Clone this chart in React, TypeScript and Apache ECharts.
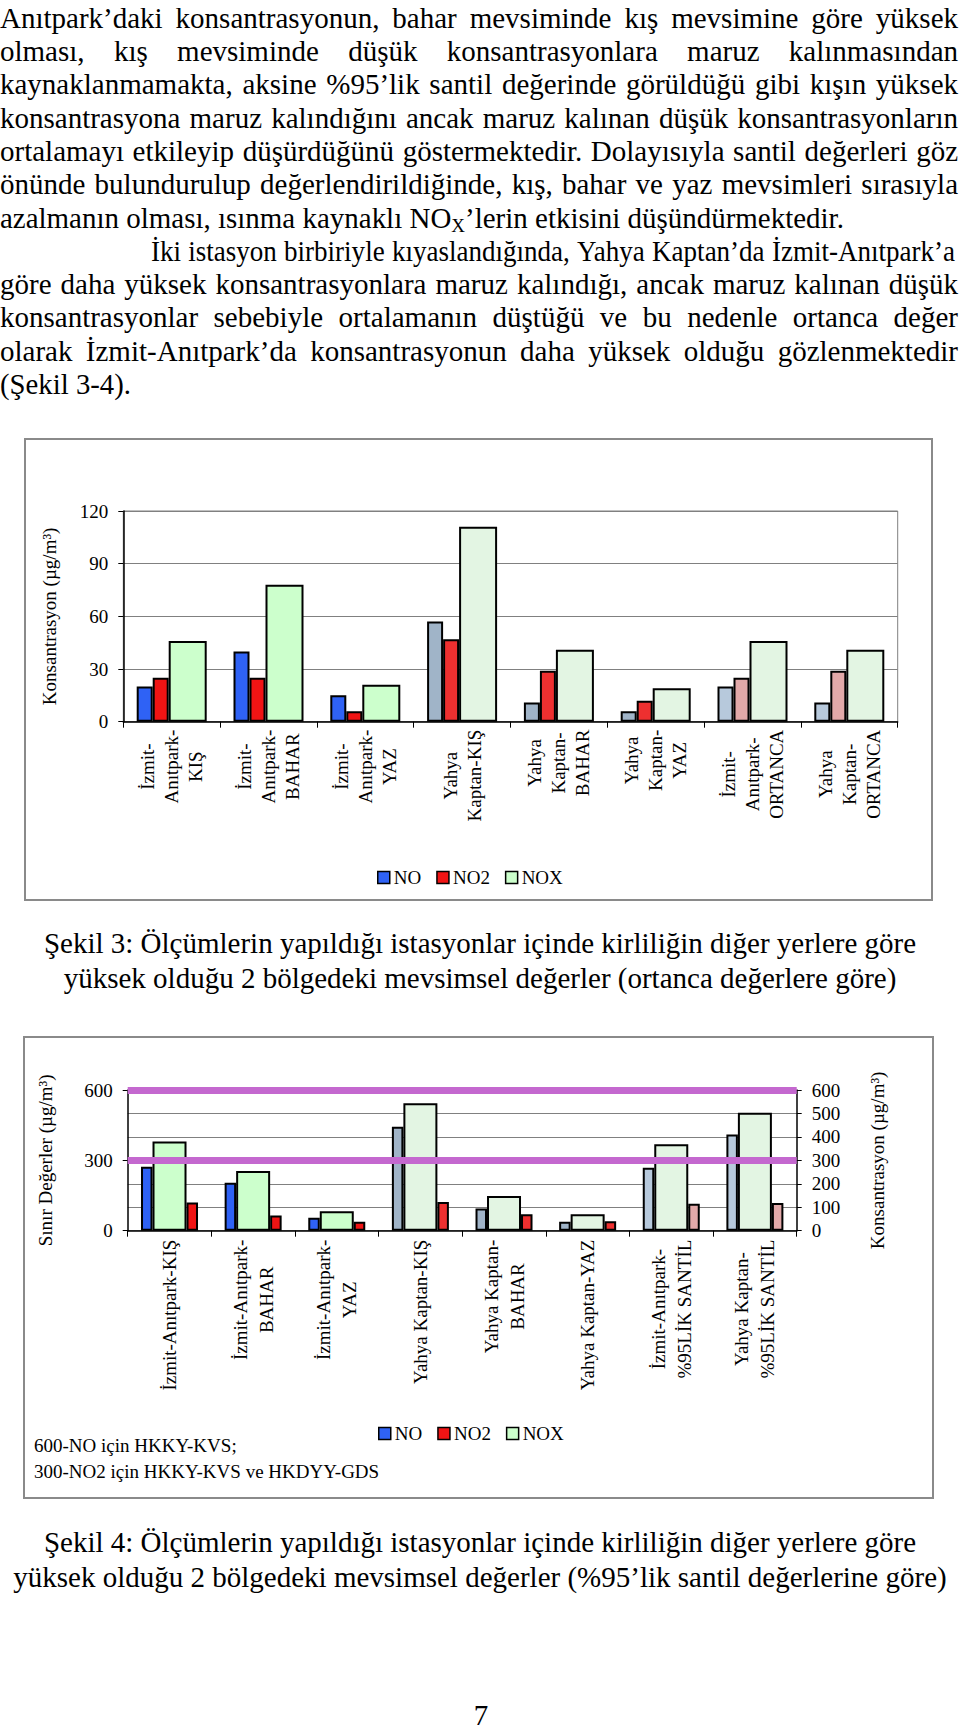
import React, { useEffect, useRef } from "react";
import * as echarts from "echarts";

// ---------------- DATA ----------------
const SERIES_NAMES = ["NO", "NO2", "NOX"];

const FIG3_CATEGORIES = [
  "İzmit-\nAnıtpark-\nKIŞ",
  "İzmit-\nAnıtpark-\nBAHAR",
  "İzmit-\nAnıtpark-\nYAZ",
  "Yahya\nKaptan-KIŞ",
  "Yahya\nKaptan-\nBAHAR",
  "Yahya\nKaptan-\nYAZ",
  "İzmit-\nAnıtpark-\nORTANCA",
  "Yahya\nKaptan-\nORTANCA",
];
const FIG3_NO = [20, 40, 15, 57, 11, 6, 20, 11];
const FIG3_NO2 = [25, 25, 6, 47, 29, 12, 25, 29];
const FIG3_NOX = [46, 78, 21, 111, 41, 19, 46, 41];
const FIG3_Y_TICKS = [0, 30, 60, 90, 120];

const FIG4_CATEGORIES = [
  "İzmit-Anıtpark-KIŞ",
  "İzmit-Anıtpark-\nBAHAR",
  "İzmit-Anıtpark-\nYAZ",
  "Yahya Kaptan-KIŞ",
  "Yahya Kaptan-\nBAHAR",
  "Yahya Kaptan-YAZ",
  "İzmit-Anıtpark-\n%95LİK SANTİL",
  "Yahya Kaptan-\n%95LİK SANTİL",
];
const FIG4_NO = [273, 205, 55, 443, 95, 38, 268, 410];
const FIG4_NOX = [380, 255, 83, 543, 148, 70, 369, 503];
const FIG4_NO2 = [120, 65, 38, 122, 70, 40, 115, 118];
const FIG4_LIMITS = [600, 300];
const FIG4_LEFT_TICKS = [0, 300, 600];
const FIG4_RIGHT_TICKS = [0, 100, 200, 300, 400, 500, 600];

// fill style group of each category (station / statistic)
const CAT_GROUPS = ["plain", "plain", "plain", "dots", "dots", "dots", "zigzag", "zigzag"];

// ---------------- TEXT ----------------
// right: where the line ends on the page
const PARA_LINES = [
  { t: "Anıtpark’daki konsantrasyonun, bahar mevsiminde kış mevsimine göre yüksek", indent: 0, right: 958 },
  { t: "olması, kış mevsiminde düşük konsantrasyonlara maruz kalınmasından", indent: 0, right: 958 },
  { t: "kaynaklanmamakta, aksine %95’lik santil değerinde görüldüğü gibi kışın yüksek", indent: 0, right: 958 },
  { t: "konsantrasyona maruz kalındığını ancak maruz kalınan düşük konsantrasyonların", indent: 0, right: 958 },
  { t: "ortalamayı etkileyip düşürdüğünü göstermektedir. Dolayısıyla santil değerleri göz", indent: 0, right: 958 },
  { t: "önünde bulundurulup değerlendirildiğinde, kış, bahar ve yaz mevsimleri sırasıyla", indent: 0, right: 958 },
  { t: "azalmanın olması, ısınma kaynaklı NO_X’lerin etkisini düşündürmektedir.", indent: 0, right: 844 },
  { t: "İki istasyon birbiriyle kıyaslandığında, Yahya Kaptan’da İzmit-Anıtpark’a", indent: 151, right: 955 },
  { t: "göre daha yüksek konsantrasyonlara maruz kalındığı, ancak maruz kalınan düşük", indent: 0, right: 958 },
  { t: "konsantrasyonlar sebebiyle ortalamanın düştüğü ve bu nedenle ortanca değer", indent: 0, right: 958 },
  { t: "olarak İzmit-Anıtpark’da konsantrasyonun daha yüksek olduğu gözlenmektedir", indent: 0, right: 958 },
  { t: "(Şekil 3-4).", indent: 0, right: 131 },
];

const CAPTION3 = [
  "Şekil 3: Ölçümlerin yapıldığı istasyonlar içinde kirliliğin diğer yerlere göre",
  "yüksek olduğu 2 bölgedeki mevsimsel değerler (ortanca değerlere göre)",
];
const CAPTION4 = [
  "Şekil 4: Ölçümlerin yapıldığı istasyonlar içinde kirliliğin diğer yerlere göre",
  "yüksek olduğu 2 bölgedeki mevsimsel değerler (%95’lik santil değerlerine göre)",
];
const FIG4_NOTES = ["600-NO için HKKY-KVS;", "300-NO2 için HKKY-KVS ve HKDYY-GDS"];

// ---------------- STYLE ----------------
const FONT = "'Liberation Serif', 'Times New Roman', serif";
const BODY_SIZE = 29;
const CHART_SIZE = 19;
const CENTRAL = 0.3375; // central baseline offset (em)

const PALETTE: Record<string, Record<string, string>> = {
  NO: { plain: "#2f62f5", dots: "#a0b4c8", zigzag: "#b7c9dc" },
  NO2: { plain: "#f01414", dots: "#ee3030", zigzag: "#e2a9a9" },
  NOX: { plain: "#ccffcc", dots: "#e3f5e3", zigzag: "#e3f5e3" },
};
const LEGEND_COLORS: Record<string, string> = { NO: "#2f62f5", NO2: "#f01414", NOX: "#ccffcc" };

let measureCtx: CanvasRenderingContext2D | null = null;
function measure(text: string, size: number) {
  if (!measureCtx) measureCtx = document.createElement("canvas").getContext("2d");
  measureCtx!.font = `${size}px ${FONT}`;
  return measureCtx!.measureText(text).width;
}

function txt(x: number, baseline: number, text: string, size: number, align = "left", scaleX = 1) {
  return {
    type: "text",
    x,
    y: baseline - CENTRAL * size,
    scaleX,
    silent: true,
    style: {
      text,
      font: `${size}px ${FONT}`,
      fill: "#000",
      align,
      verticalAlign: "middle",
    },
  };
}

function paragraphElements() {
  const els: any[] = [];
  PARA_LINES.forEach((ln, i) => {
    const baseline = 27.5 + i * 33.3;
    const words = ln.t.split(" ");
    const segs = words.map((w) => {
      const m = w.split("_");
      if (m.length === 1) return [{ text: w, size: BODY_SIZE, dy: 0 }];
      return [
        { text: m[0], size: BODY_SIZE, dy: 0 },
        { text: m[1].charAt(0), size: CHART_SIZE, dy: 5 },
        { text: m[1].slice(1), size: BODY_SIZE, dy: 0 },
      ];
    });
    const widths = segs.map((s) => s.reduce((a, g) => a + measure(g.text, g.size), 0));
    const total = widths.reduce((a, b) => a + b, 0);
    const space = measure(" ", BODY_SIZE);
    const n = Math.max(1, words.length - 1);
    const avail = ln.right - ln.indent;
    let scale = 1;
    let gap = space;
    if (total + n * space <= avail) {
      gap = words.length > 1 ? (avail - total) / n : space;
    } else {
      scale = (avail - (words.length - 1) * space) / total;
    }
    let x = ln.indent;
    segs.forEach((s, k) => {
      let sx = x;
      s.forEach((g) => {
        els.push(txt(sx, baseline + g.dy, g.text, g.size, "left", scale));
        sx += measure(g.text, g.size) * scale;
      });
      x += widths[k] * scale + gap;
    });
  });
  return els;
}

const richLabel = (lineHeight: number) => ({
  interval: 0,
  rotate: 90,
  color: "#000",
  fontFamily: FONT,
  fontSize: CHART_SIZE,
  lineHeight,
  formatter: (v: string) => v.split("\n").map((l) => `{c|${l}}`).join("\n"),
  rich: {
    c: { align: "center", fontFamily: FONT, fontSize: CHART_SIZE, lineHeight, color: "#000" },
  },
});

const axisText = { color: "#000", fontFamily: FONT, fontSize: CHART_SIZE };

function buildOption() {
  const colorFn = (name: string) => (p: any) => PALETTE[name][CAT_GROUPS[p.dataIndex]];
  const barStyle = (name: string) => ({ color: colorFn(name), borderColor: "#000", borderWidth: 2 });

  const legendData = SERIES_NAMES.map((n) => ({
    name: n,
    itemStyle: { color: LEGEND_COLORS[n], borderColor: "#000", borderWidth: 1.5 },
  }));
  const legendBase = {
    data: legendData,
    icon: "rect",
    itemWidth: 12,
    itemHeight: 12,
    itemGap: 15,
    selectedMode: false,
    textStyle: { ...axisText, padding: [0, 0, 0, -1] },
  };

  const graphics: any[] = [
    ...paragraphElements(),
    {
      type: "rect",
      silent: true,
      shape: { x: 25, y: 439, width: 907, height: 461 },
      style: { fill: "none", stroke: "#8a8a8a", lineWidth: 2 },
    },
    {
      type: "rect",
      silent: true,
      shape: { x: 24, y: 1037, width: 909, height: 461 },
      style: { fill: "none", stroke: "#8a8a8a", lineWidth: 2 },
    },
    txt(480, 953, CAPTION3[0], BODY_SIZE, "center"),
    txt(480, 988, CAPTION3[1], BODY_SIZE, "center"),
    txt(480, 1552, CAPTION4[0], BODY_SIZE, "center"),
    txt(480, 1587, CAPTION4[1], BODY_SIZE, "center"),
    txt(481, 1725, "7", BODY_SIZE, "center"),
    txt(34, 1451.5, FIG4_NOTES[0], CHART_SIZE),
    txt(34, 1477.5, FIG4_NOTES[1], CHART_SIZE),
  ];

  return {
    animation: false,
    backgroundColor: "#fff",
    textStyle: { fontFamily: FONT },
    graphic: { elements: graphics },
    legend: [
      { ...legendBase, left: 372, top: 863 },
      { ...legendBase, left: 373, top: 1419 },
    ],
    grid: [
      { left: 123.3, top: 511, width: 774.4, height: 210.7, show: true, borderColor: "#808080", borderWidth: 1, backgroundColor: "transparent" },
      { left: 127.7, top: 1090, width: 669, height: 140.7 },
    ],
    xAxis: [
      {
        type: "category",
        gridIndex: 0,
        data: FIG3_CATEGORIES,
        axisLine: { show: true, lineStyle: { color: "#000", width: 1.5 } },
        axisTick: { show: true, length: 6, interval: 0, lineStyle: { color: "#000" } },
        axisLabel: { ...richLabel(24), margin: 8 },
        splitLine: { show: false },
      },
      {
        type: "category",
        gridIndex: 1,
        data: FIG4_CATEGORIES,
        axisLine: { show: true, lineStyle: { color: "#000", width: 1.5 } },
        axisTick: { show: true, length: 6, interval: 0, lineStyle: { color: "#000" } },
        axisLabel: { ...richLabel(26), margin: 9 },
        splitLine: { show: false },
      },
    ],
    yAxis: [
      {
        type: "value",
        gridIndex: 0,
        min: FIG3_Y_TICKS[0],
        max: FIG3_Y_TICKS[FIG3_Y_TICKS.length - 1],
        interval: FIG3_Y_TICKS[1] - FIG3_Y_TICKS[0],
        name: "Konsantrasyon (µg/m³)",
        nameLocation: "middle",
        nameRotate: 90,
        nameGap: 64,
        nameTextStyle: axisText,
        axisLine: { show: true, lineStyle: { color: "#000", width: 1.5 } },
        axisTick: { show: true, length: 5, lineStyle: { color: "#000" } },
        axisLabel: { ...axisText, margin: 15 },
        splitLine: { show: true, lineStyle: { color: "#808080", width: 1 } },
      },
      {
        type: "value",
        gridIndex: 1,
        position: "left",
        min: FIG4_LEFT_TICKS[0],
        max: FIG4_LEFT_TICKS[FIG4_LEFT_TICKS.length - 1],
        interval: FIG4_LEFT_TICKS[1] - FIG4_LEFT_TICKS[0],
        name: "Sınır Değerler (µg/m³)",
        nameLocation: "middle",
        nameRotate: 90,
        nameGap: 73,
        nameTextStyle: axisText,
        axisLine: { show: true, lineStyle: { color: "#000", width: 1.5 } },
        axisTick: { show: true, length: 5, lineStyle: { color: "#000" } },
        axisLabel: { ...axisText, margin: 15 },
        splitLine: { show: false },
      },
      {
        type: "value",
        gridIndex: 1,
        position: "right",
        min: FIG4_RIGHT_TICKS[0],
        max: FIG4_RIGHT_TICKS[FIG4_RIGHT_TICKS.length - 1],
        interval: FIG4_RIGHT_TICKS[1] - FIG4_RIGHT_TICKS[0],
        name: "Konsantrasyon (µg/m³)",
        nameLocation: "middle",
        nameRotate: 90,
        nameGap: 71,
        nameTextStyle: axisText,
        axisLine: { show: true, lineStyle: { color: "#000", width: 1.5 } },
        axisTick: { show: true, length: 5, lineStyle: { color: "#000" } },
        axisLabel: { ...axisText, margin: 15 },
        splitLine: { show: true, lineStyle: { color: "#808080", width: 1 } },
      },
    ],
    series: [
      { name: "NO", type: "bar", xAxisIndex: 0, yAxisIndex: 0, data: FIG3_NO, barWidth: 16, barGap: "0%", itemStyle: barStyle("NO"), z: 3 },
      { name: "NO2", type: "bar", xAxisIndex: 0, yAxisIndex: 0, data: FIG3_NO2, barWidth: 16, barGap: "0%", itemStyle: barStyle("NO2"), z: 3 },
      { name: "NOX", type: "bar", xAxisIndex: 0, yAxisIndex: 0, data: FIG3_NOX, barWidth: 38, barGap: "0%", itemStyle: barStyle("NOX"), z: 3 },
      {
        name: "limits",
        type: "line",
        xAxisIndex: 1,
        yAxisIndex: 2,
        data: [],
        z: 1,
        markLine: {
          silent: true,
          symbol: ["none", "none"],
          label: { show: false },
          lineStyle: { color: "#c468cf", width: 7, type: "solid", opacity: 1 },
          data: FIG4_LIMITS.map((v) => ({ yAxis: v })),
        },
      },
      { name: "NO", type: "bar", xAxisIndex: 1, yAxisIndex: 2, data: FIG4_NO, barWidth: 11.5, barGap: "0%", itemStyle: barStyle("NO"), z: 3 },
      { name: "NOX", type: "bar", xAxisIndex: 1, yAxisIndex: 2, data: FIG4_NOX, barWidth: 34, barGap: "0%", itemStyle: barStyle("NOX"), z: 3 },
      { name: "NO2", type: "bar", xAxisIndex: 1, yAxisIndex: 2, data: FIG4_NO2, barWidth: 11.5, barGap: "0%", itemStyle: barStyle("NO2"), z: 3 },
    ],
  };
}

export default function App() {
  const ref = useRef<HTMLDivElement>(null);
  useEffect(() => {
    if (!ref.current) return;
    const chart = echarts.init(ref.current, null, { renderer: "svg" });
    chart.setOption(buildOption() as any);
    return () => chart.dispose();
  }, []);
  return (
    <div
      ref={ref}
      style={{ position: "absolute", left: 0, top: 0, width: 960, height: 1730, background: "#fff" }}
    />
  );
}
